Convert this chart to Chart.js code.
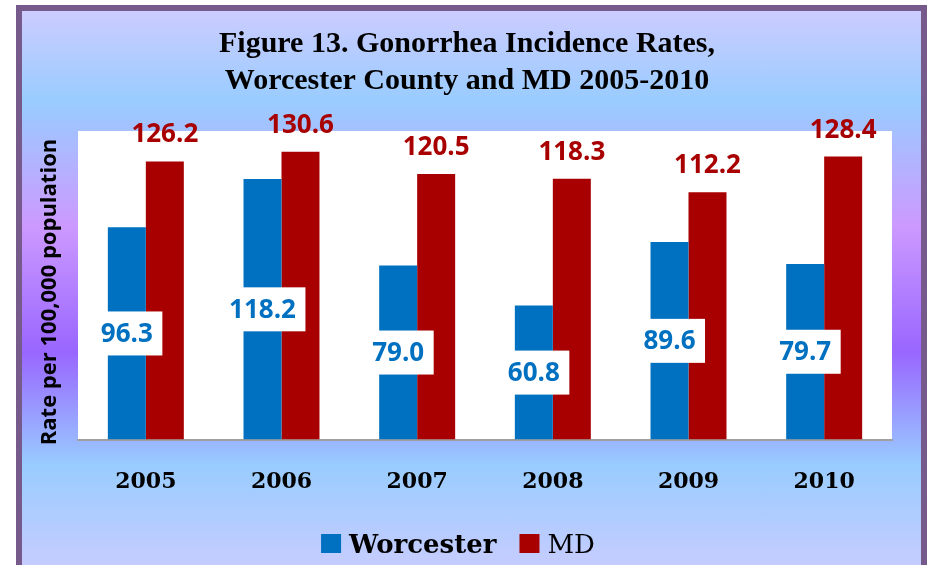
<!DOCTYPE html>
<html lang="en">
<head>
  <meta charset="UTF-8" />
  <title>Figure 13. Gonorrhea Incidence Rates</title>
  <script src="https://cdn.jsdelivr.net/npm/chart.js"></script>
  <style>
    html, body {
      margin: 0;
      padding: 0;
      background: #fff;
      overflow: hidden;
    }
    #frame {
      position: absolute;
      left: 16px;
      top: 5px;
      width: 911px;
      height: 580px;
      box-sizing: border-box;
      border: 6px solid #775a8c;
      background: linear-gradient(to bottom, #ccccff 0%, #99ccff 16%, #cc99ff 38%, #9966ff 60%, #99ccff 80%, #ccccff 100%);
    }
    #wrap {
      position: absolute;
      left: 0;
      top: 0;
      width: 931px;
      height: 565px;
    }
  </style>
</head>
<body>
  <div id="frame"></div>
  <div id="wrap"><canvas id="chart" width="931" height="565"></canvas></div>

  <script>
    const years = ['2005', '2006', '2007', '2008', '2009', '2010'];
    const worcester = [96.3, 118.2, 79.0, 60.8, 89.6, 79.7];
    const md = [126.2, 130.6, 120.5, 118.3, 112.2, 128.4];
    const titleLines = ['Figure 13. Gonorrhea Incidence Rates,', 'Worcester County and MD 2005-2010'];
    const yTitle = 'Rate per 100,000 population';

    const blue = '#0070c0';
    const red = '#a80000';

    // white plot area, value labels, title, y title and legend
    const decor = {
      id: 'decor',
      beforeDraw(chart) {
        const { ctx, chartArea: a } = chart;
        ctx.save();
        ctx.fillStyle = '#fff';
        ctx.fillRect(a.left, a.top, a.right - a.left, a.bottom - a.top);
        ctx.restore();
      },
      afterDatasetsDraw(chart) {
        const ctx = chart.ctx;
        ctx.save();
        ctx.font = "bold 26px 'Open Sans'";
        ctx.textAlign = 'center';

        // MD labels above the bars
        chart.getDatasetMeta(1).data.forEach((bar, i) => {
          ctx.fillStyle = red;
          ctx.textBaseline = 'alphabetic';
          ctx.fillText(md[i].toFixed(1), bar.x, bar.y - 19);
        });

        // Worcester labels in white boxes at bar middle
        chart.getDatasetMeta(0).data.forEach((bar, i) => {
          const txt = worcester[i].toFixed(1);
          const w = ctx.measureText(txt).width + 19;
          const h = 44;
          const cy = (bar.y + bar.base) / 2;
          ctx.fillStyle = '#fff';
          ctx.fillRect(bar.x - w / 2, cy - h / 2, w, h);
          ctx.fillStyle = blue;
          ctx.textBaseline = 'middle';
          ctx.fillText(txt, bar.x, cy + 1);
        });
        ctx.restore();
      },
      afterDraw(chart) {
        const ctx = chart.ctx;

        // title
        ctx.save();
        ctx.font = "bold 30px 'Liberation Serif'";
        ctx.fillStyle = '#000';
        ctx.textAlign = 'center';
        ctx.textBaseline = 'middle';
        titleLines.forEach((line, i) => ctx.fillText(line, 467, 44 + i * 37));
        ctx.restore();

        // y axis title
        ctx.save();
        ctx.translate(50, 292);
        ctx.rotate(-Math.PI / 2);
        ctx.font = "bold 22px 'Open Sans'";
        ctx.fillStyle = '#000';
        ctx.textAlign = 'center';
        ctx.textBaseline = 'middle';
        ctx.fillText(yTitle, 0, 0);
        ctx.restore();

        // legend
        ctx.save();
        const items = chart.data.datasets.map((ds, i) => ({
          label: ds.label,
          color: ds.backgroundColor,
          font: i === 0 ? "bold 26px 'DejaVu Serif'" : "26px 'DejaVu Serif'"
        }));
        let total = 0;
        items.forEach((it, i) => {
          ctx.font = it.font;
          it.w = ctx.measureText(it.label).width;
          total += 20 + 8 + it.w + (i < items.length - 1 ? 23 : 0);
        });
        let x = 458 - total / 2;
        const baseY = 553;
        items.forEach(it => {
          ctx.fillStyle = it.color;
          ctx.fillRect(x, baseY - 19, 20, 19);
          x += 28;
          ctx.font = it.font;
          ctx.fillStyle = '#000';
          ctx.textAlign = 'left';
          ctx.textBaseline = 'alphabetic';
          ctx.fillText(it.label, x, baseY);
          x += it.w + 23;
        });
        ctx.restore();
      }
    };

    new Chart(document.getElementById('chart'), {
      type: 'bar',
      data: {
        labels: years,
        datasets: [
          { label: 'Worcester', data: worcester, backgroundColor: blue },
          { label: 'MD', data: md, backgroundColor: red }
        ]
      },
      options: {
        responsive: false,
        animation: false,
        events: [],
        datasets: {
          bar: { categoryPercentage: 0.56, barPercentage: 1.0 }
        },
        layout: {
          padding: { left: 78, right: 39, top: 131, bottom: 41 }
        },
        plugins: {
          legend: { display: false },
          tooltip: { enabled: false },
          title: { display: false }
        },
        scales: {
          x: {
            grid: { display: false, drawTicks: false },
            border: { display: true, color: '#a0a0a0', width: 2 },
            ticks: {
              color: '#000',
              padding: 29,
              font: { family: "'DejaVu Serif'", size: 22, weight: 'bold' }
            }
          },
          y: {
            display: false,
            min: 0,
            max: 140
          }
        }
      },
      plugins: [decor]
    });
  </script>
</body>
</html>
